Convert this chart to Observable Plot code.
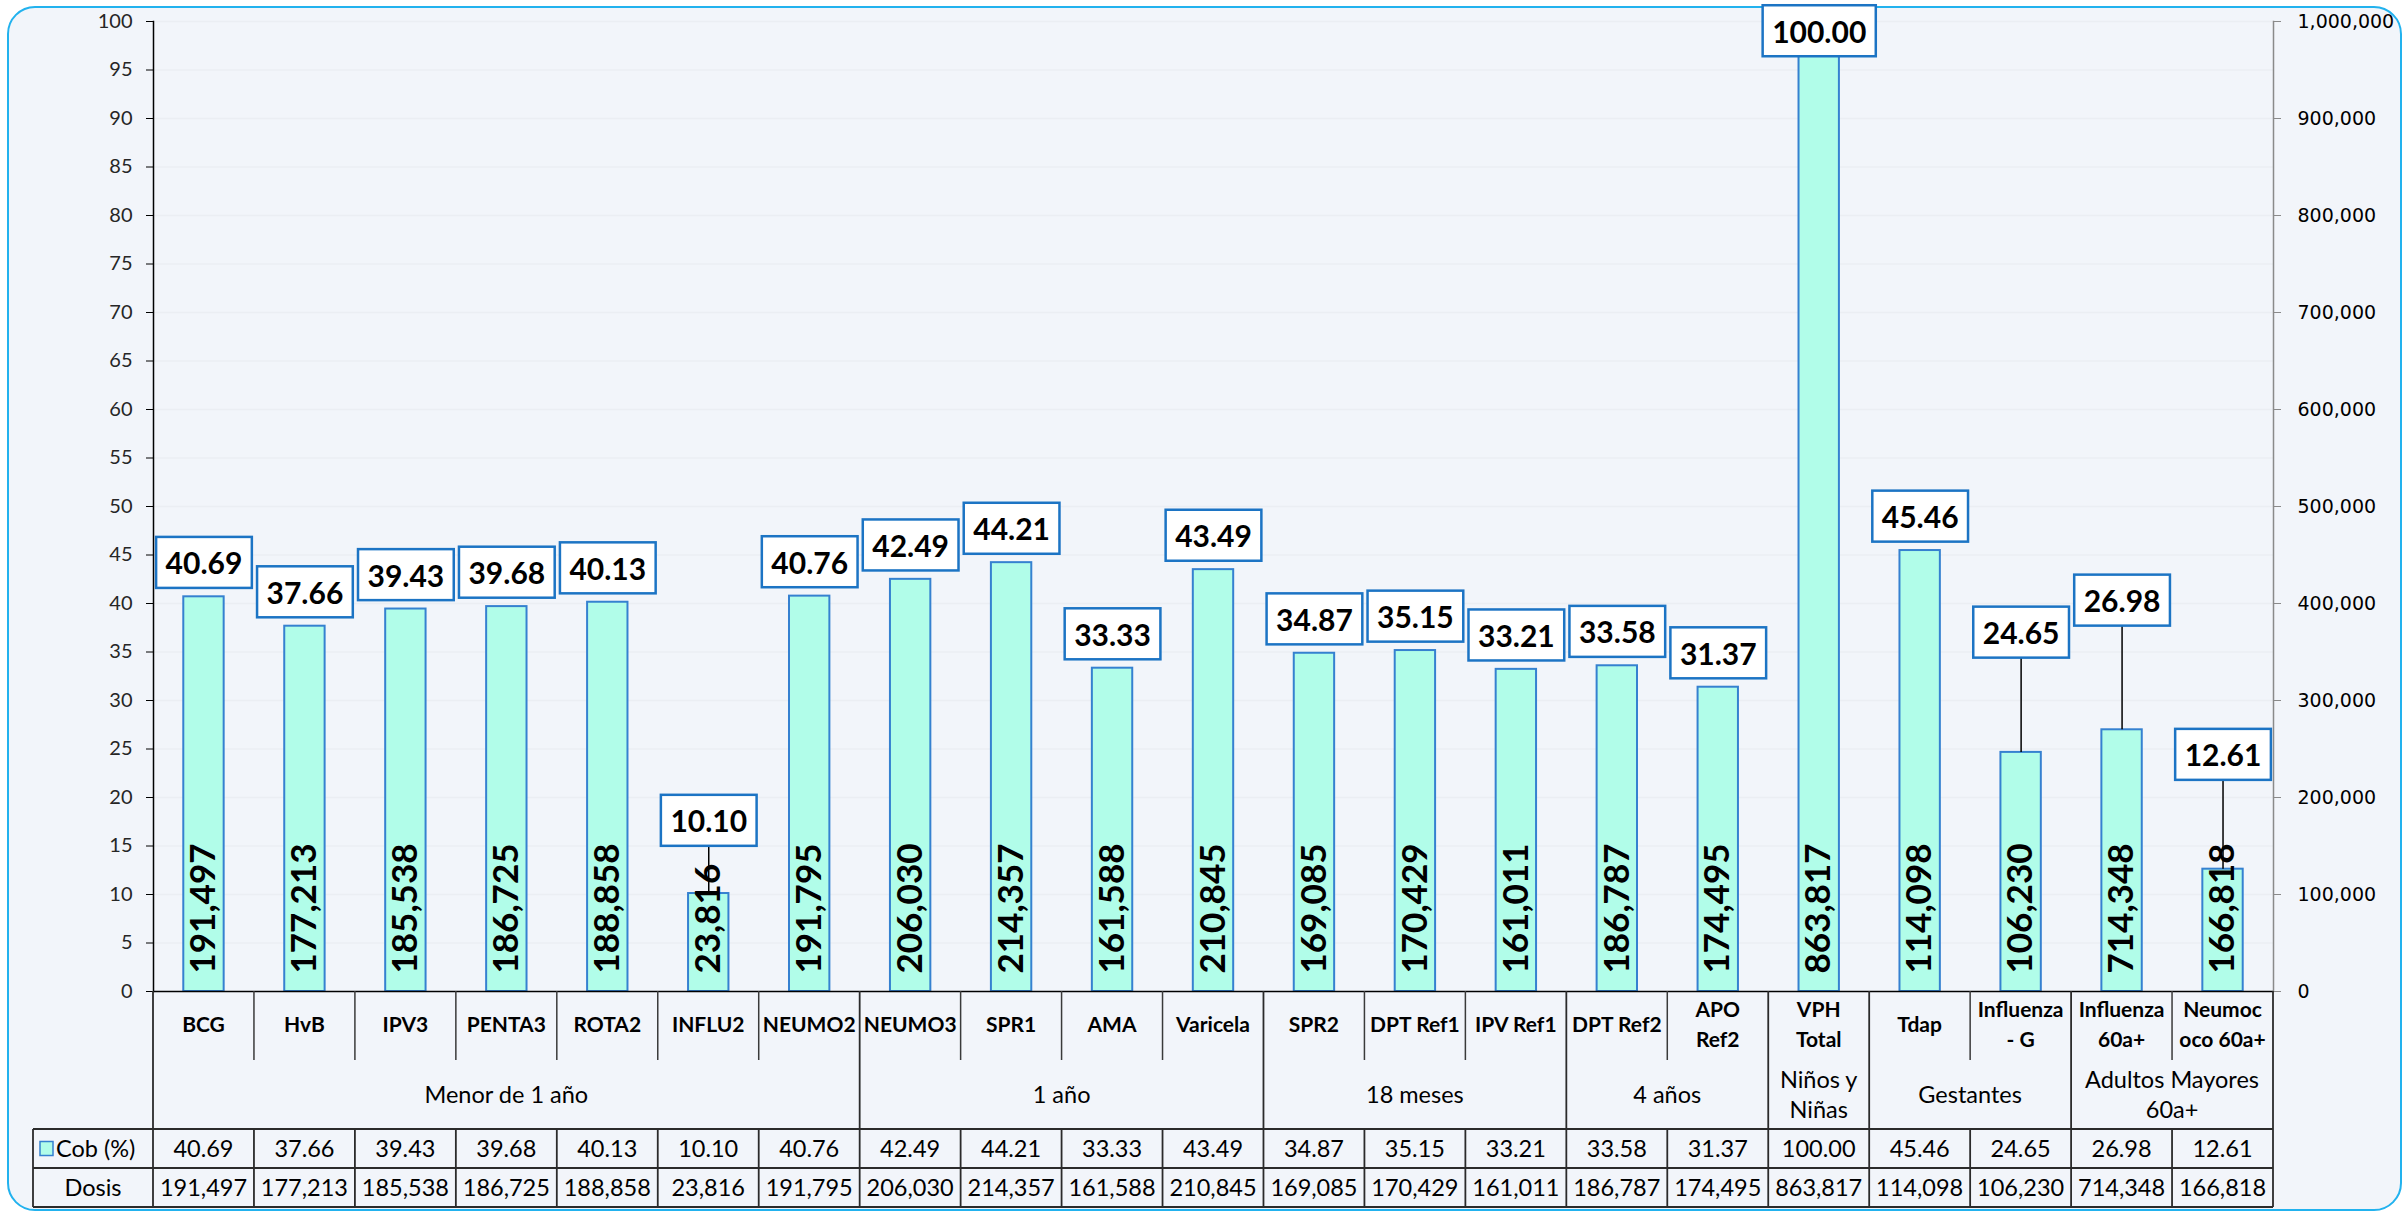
<!DOCTYPE html>
<html>
<head>
<meta charset="utf-8">
<script src="https://cdn.jsdelivr.net/npm/d3@7"></script>
<script src="https://cdn.jsdelivr.net/npm/@observablehq/plot@0.6"></script>
<style>
html, body { margin: 0; padding: 0; background: #ffffff; }
#wrap { position: relative; width: 2402px; height: 1211px; overflow: hidden; }
#box { position: absolute; left: 7px; top: 6px; width: 2395px; height: 1205px; box-sizing: border-box;
       border: 2px solid #22B2EE; border-radius: 28px; background: #F2F5FA; }
#chart { position: absolute; left: 0; top: 0; }
</style>
</head>
<body>
<div id="wrap"><div id="box"></div><div id="chart"></div></div>
<script>
// ---------------- data ----------------
const categories = ["BCG","HvB","IPV3","PENTA3","ROTA2","INFLU2","NEUMO2","NEUMO3","SPR1","AMA","Varicela",
  "SPR2","DPT Ref1","IPV Ref1","DPT Ref2","APO Ref2","VPH Total","Tdap","Influenza - G","Influenza 60a+","Neumococo 60a+"];
const categoryLabels = ["BCG","HvB","IPV3","PENTA3","ROTA2","INFLU2","NEUMO2","NEUMO3","SPR1","AMA","Varicela",
  "SPR2","DPT Ref1","IPV Ref1","DPT Ref2","APO\nRef2","VPH\nTotal","Tdap","Influenza\n- G","Influenza\n60a+","Neumoc\noco 60a+"];
const cobertura = [40.69,37.66,39.43,39.68,40.13,10.10,40.76,42.49,44.21,33.33,43.49,
  34.87,35.15,33.21,33.58,31.37,100.00,45.46,24.65,26.98,12.61];
const dosis = [191497,177213,185538,186725,188858,23816,191795,206030,214357,161588,210845,
  169085,170429,161011,186787,174495,863817,114098,106230,714348,166818];
const groups = ["Menor de 1 año","1 año","18 meses","4 años","Niños y\nNiñas","Gestantes","Adultos Mayores\n60a+"];
const groupSizes = [7,4,3,2,1,2,2];
const pctTicks = [0,5,10,15,20,25,30,35,40,45,50,55,60,65,70,75,80,85,90,95,100];
const doseTicks = [0,100000,200000,300000,400000,500000,600000,700000,800000,900000,1000000];
const seriesCob = "Cob (%)";
const seriesDosis = "Dosis";

// ---------------- layout ----------------
const W = 2402, H = 1211;
const mL = 153, mR = W - 2273, mT = 21, mB = H - 991;
const pctMax = 100, doseMax = 1000000, k = doseMax / pctMax;
// labels moved away from their bar (in % units), others sit just above the bar
const labelAt = {"INFLU2": 17.4, "VPH Total": 98.8, "Influenza - G": 36.8, "Influenza 60a+": 40.1, "Neumococo 60a+": 24.2};
const leader = new Set(["INFLU2", "Influenza - G", "Influenza 60a+", "Neumococo 60a+"]);

const data = categories.map((c, i) => ({cat: c, label: categoryLabels[i], cob: cobertura[i], dosis: dosis[i]}));
const fmtInt = d3.format(",");
const fmt2 = d3.format(".2f");
const FONT = "Lato, 'Open Sans', sans-serif";

const plot = Plot.plot({
  width: W, height: H,
  marginLeft: mL, marginRight: mR, marginTop: mT, marginBottom: mB,
  style: {background: "transparent", overflow: "visible", fontFamily: FONT},
  x: {domain: categories, paddingInner: 0.6, paddingOuter: 0.3, round: false, axis: null},
  y: {domain: [0, pctMax], axis: null},
  marks: [
    Plot.gridY(pctTicks.filter(d => d > 0), {stroke: "#EBEEF3", strokeOpacity: 1, strokeWidth: 1.5}),
    Plot.barY(data, {x: "cat", y: "cob", fill: "#B1FDE9", stroke: "#3581D0", strokeWidth: 2}),
    Plot.text(data, {x: "cat", y: 0, text: d => fmtInt(d.dosis), rotate: -90, textAnchor: "start", dy: -18,
      fontSize: 35, fontWeight: "bold", fontFamily: FONT, fill: "#000"}),
    Plot.ruleX(data.filter(d => leader.has(d.cat)), {x: "cat", y1: "cob", y2: d => labelAt[d.cat], stroke: "#000", strokeWidth: 1.5}),
    Plot.text(data.filter(d => !(d.cat in labelAt)), {x: "cat", y: "cob", text: d => fmt2(d.cob), dy: -32,
      fontSize: 30, fontWeight: "bold", fontFamily: FONT, fill: "#000"}),
    Plot.text(data.filter(d => d.cat in labelAt), {x: "cat", y: d => labelAt[d.cat], text: d => fmt2(d.cob),
      fontSize: 30, fontWeight: "bold", fontFamily: FONT, fill: "#000"}),
    Plot.axisY(pctTicks, {anchor: "left", label: null, tickSize: 7, tickPadding: 14, stroke: "#000",
      fontSize: 20, fontFamily: FONT, fill: "#262626"}),
    Plot.axisY(doseTicks.map(t => t / k), {anchor: "right", label: null, tickSize: 7, tickPadding: 17, stroke: "#8A8A8A",
      tickFormat: d => fmtInt(Math.round(d * k)), fontSize: 19, fontFamily: "'DejaVu Sans', sans-serif", fill: "#000"}),
    Plot.frame({anchor: "left", stroke: "#000", strokeWidth: 1.5}),
    Plot.frame({anchor: "right", stroke: "#8A8A8A", strokeWidth: 1.5}),
    Plot.ruleY([0], {stroke: "#000", strokeWidth: 1.5})
  ]
});

document.getElementById("chart").appendChild(plot);
const svg = d3.select(plot);

// boxes behind the value labels
svg.selectAll("text").filter(function () { return /^\d+\.\d\d$/.test(this.textContent); }).each(function () {
  const b = this.getBBox();
  const node = this;
  d3.select(this.parentNode).insert("rect", () => node)
    .attr("x", b.x - 9.5).attr("y", b.y - 7.5).attr("width", b.width + 19).attr("height", b.height + 15)
    .attr("transform", this.getAttribute("transform"))
    .attr("fill", "#ffffff").attr("stroke", "#1C74C4").attr("stroke-width", 2.5);
});

// ---------------- data table under the chart (columns from Plot's x scale) ----------------
const xs = plot.scale("x");
const step = xs.step ?? xs.bandwidth / (1 - 0.6);
const cellLeft = c => xs.apply(c) - (step - xs.bandwidth) / 2;
const bounds = categories.map(cellLeft).concat([cellLeft(categories[categories.length - 1]) + step]);
const y0 = H - mB;
const rowCat = y0 + 69, rowGrp = y0 + 138, rowCob = y0 + 177, rowDos = y0 + 216;
const tableLeft = 33;
const g = svg.append("g").attr("class", "table");
const line = (x1, y1, x2, y2, w = 1.8, c = "#2b2b2b") =>
  g.append("line").attr("x1", x1).attr("y1", y1).attr("x2", x2).attr("y2", y2).attr("stroke", c).attr("stroke-width", w);

const groupEdges = [0];
groupSizes.forEach(s => groupEdges.push(groupEdges[groupEdges.length - 1] + s));
bounds.forEach((x, i) => {
  if (groupEdges.includes(i)) line(x, y0, x, rowDos);
  else { line(x, y0, x, rowCat, 1.5, "#3a3a3a"); line(x, rowGrp, x, rowDos); }
});
line(tableLeft, rowGrp, tableLeft, rowDos);
[rowGrp, rowCob, rowDos].forEach(y => line(tableLeft, y, bounds[bounds.length - 1], y));

function multiText(x, yc, str, size, weight, lh, anchor = "middle") {
  const lines = str.split("\n");
  const t = g.append("text").attr("x", x).attr("text-anchor", anchor).attr("font-family", FONT)
    .attr("font-size", size).attr("font-weight", weight).attr("fill", "#000");
  lines.forEach((s, j) => {
    t.append("tspan").attr("x", x).attr("y", yc + (j - (lines.length - 1) / 2) * lh).attr("dy", "0.35em").text(s);
  });
}
data.forEach((d, i) => {
  const cx = bounds[i] + step / 2;
  multiText(cx, y0 + 34, d.label, 21, "bold", 30);
  multiText(cx, (rowGrp + rowCob) / 2, fmt2(d.cob), 23.5, "normal", 30);
  multiText(cx, (rowCob + rowDos) / 2, fmtInt(d.dosis), 23.5, "normal", 30);
});
groups.forEach((name, j) => {
  const cx = (bounds[groupEdges[j]] + bounds[groupEdges[j + 1]]) / 2;
  multiText(cx, y0 + 104, name, 23.5, "normal", 30);
});
// row headers
const cobY = (rowGrp + rowCob) / 2;
g.append("rect").attr("x", 40).attr("y", cobY - 7).attr("width", 13).attr("height", 14)
  .attr("fill", "#B1FDE9").attr("stroke", "#3581D0").attr("stroke-width", 1.5);
multiText(56, cobY, seriesCob, 23.5, "normal", 30, "start");
multiText((tableLeft + mL) / 2, (rowCob + rowDos) / 2, seriesDosis, 23.5, "normal", 30);
</script>
</body>
</html>
